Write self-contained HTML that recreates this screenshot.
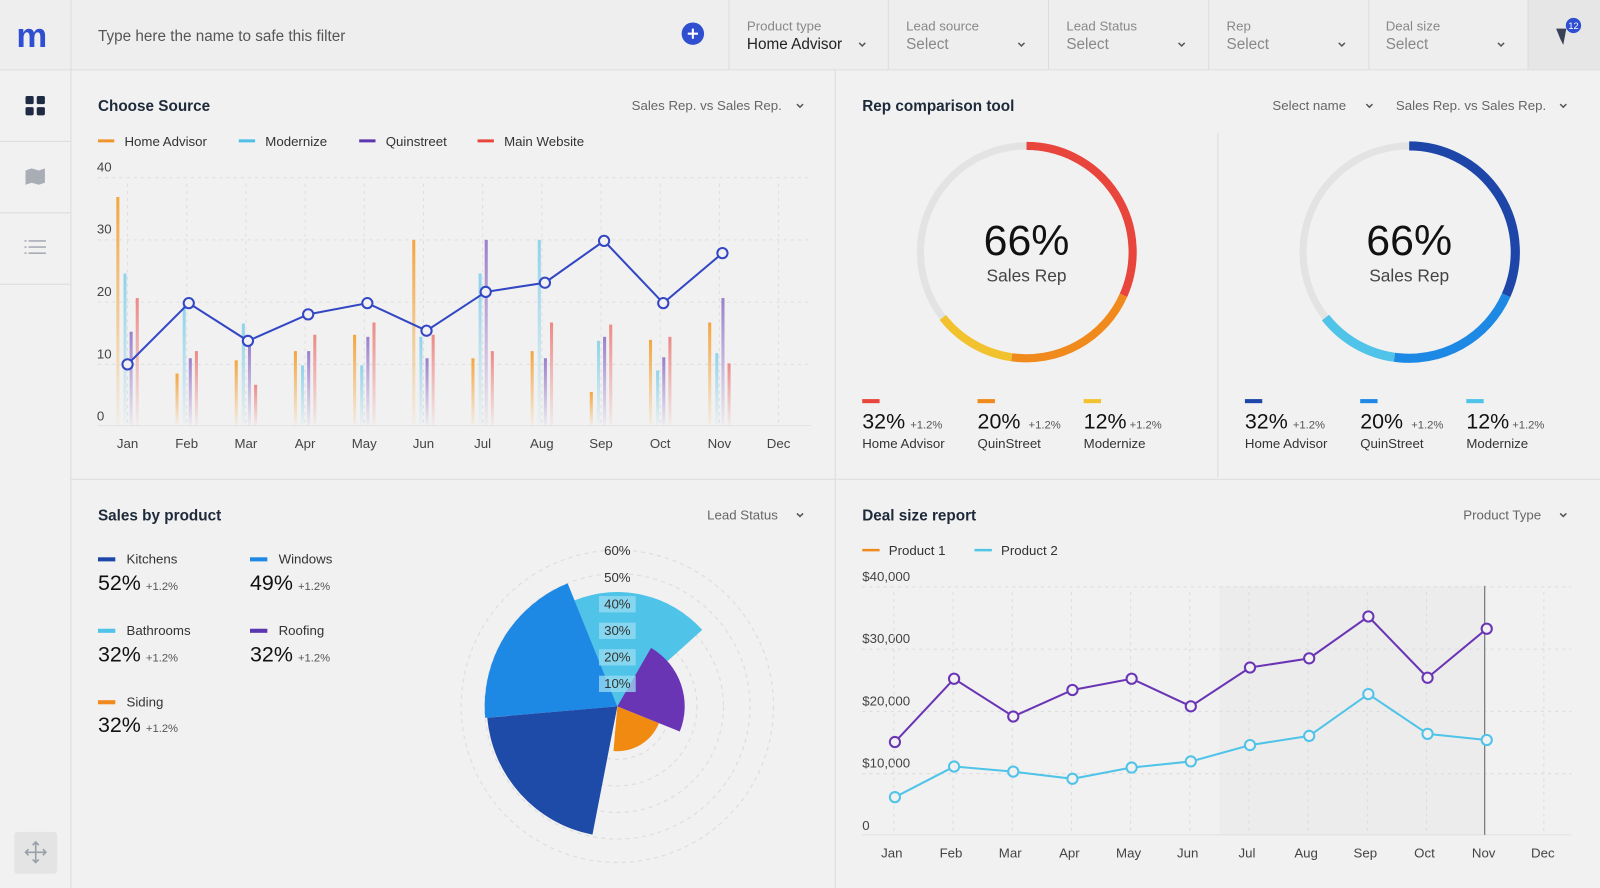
<!DOCTYPE html>
<html><head><meta charset="utf-8"><style>
html,body{margin:0;padding:0;background:#f0f0f0;}
svg{display:block;font-family:"Liberation Sans",sans-serif;}
</style></head><body>
<svg width="1600" height="888" viewBox="0 0 1568 870" preserveAspectRatio="none" xmlns="http://www.w3.org/2000/svg">
<defs>
<linearGradient id="go" x1="0" y1="0" x2="0" y2="1"><stop offset="0" stop-color="#f3a640"/><stop offset="1" stop-color="#f3a640" stop-opacity="0.05"/></linearGradient>
<linearGradient id="gc" x1="0" y1="0" x2="0" y2="1"><stop offset="0" stop-color="#8fd3ec"/><stop offset="1" stop-color="#8fd3ec" stop-opacity="0.05"/></linearGradient>
<linearGradient id="gp" x1="0" y1="0" x2="0" y2="1"><stop offset="0" stop-color="#9a7fcc"/><stop offset="1" stop-color="#9a7fcc" stop-opacity="0.05"/></linearGradient>
<linearGradient id="gr" x1="0" y1="0" x2="0" y2="1"><stop offset="0" stop-color="#ec8a86"/><stop offset="1" stop-color="#ec8a86" stop-opacity="0.05"/></linearGradient>
</defs>
<rect width="1568" height="870" fill="#f1f1f1"/>
<!-- header -->
<rect x="0" y="0" width="1568" height="68" fill="#eeeeee"/>
<rect x="1497" y="0" width="71" height="68" fill="#e6e6e6"/>
<line x1="0" y1="68.5" x2="1568" y2="68.5" stroke="#dcdcdc"/>
<line x1="69.5" y1="0" x2="69.5" y2="870" stroke="#dcdcdc"/>
<g stroke="#dcdcdc"><line x1="714.5" y1="0" x2="714.5" y2="68"/><line x1="870.5" y1="0" x2="870.5" y2="68"/><line x1="1027.5" y1="0" x2="1027.5" y2="68"/><line x1="1184.5" y1="0" x2="1184.5" y2="68"/><line x1="1341.5" y1="0" x2="1341.5" y2="68"/><line x1="1497.5" y1="0" x2="1497.5" y2="68"/></g>
<text x="16" y="46" font-size="34" font-weight="bold" fill="#2f4fd0">m</text>
<text x="96" y="40" font-size="15" fill="#555">Type here the name to safe this filter</text>
<circle cx="679" cy="33" r="11" fill="#2f4fd0"/><path d="M674 33h10M679 28v10" stroke="#fff" stroke-width="2"/>
<g font-size="13" fill="#888"><text x="732" y="30">Product type</text><text x="888" y="30">Lead source</text><text x="1045" y="30">Lead Status</text><text x="1202" y="30">Rep</text><text x="1358" y="30">Deal size</text></g>
<g font-size="15"><text x="732" y="48" fill="#222">Home Advisor</text><text x="888" y="48" fill="#888">Select</text><text x="1045" y="48" fill="#888">Select</text><text x="1202" y="48" fill="#888">Select</text><text x="1358" y="48" fill="#888">Select</text></g>
<g stroke="#555" stroke-width="1.5" fill="none"><path d="M842 42l3 3 3-3"/><path d="M998 42l3 3 3-3"/><path d="M1155 42l3 3 3-3"/><path d="M1312 42l3 3 3-3"/><path d="M1468 42l3 3 3-3"/></g>
<path d="M1525 28l10 0 -3 16 -3 -6z" fill="#3a4258"/>
<circle cx="1542" cy="25" r="7.5" fill="#2f4fd0"/><text x="1542" y="28.5" font-size="9" fill="#fff" text-anchor="middle">12</text>
<!-- sidebar -->
<g stroke="#dcdcdc"><line x1="0" y1="138.5" x2="69" y2="138.5"/><line x1="0" y1="208.5" x2="69" y2="208.5"/><line x1="0" y1="278.5" x2="69" y2="278.5"/></g>
<g fill="#1f2a44"><rect x="25" y="94" width="8" height="8" rx="1.5"/><rect x="36" y="94" width="8" height="8" rx="1.5"/><rect x="25" y="105" width="8" height="8" rx="1.5"/><rect x="36" y="105" width="8" height="8" rx="1.5"/></g>
<path d="M25 167l6-2 7 2 6-2v14l-6 2-7-2-6 2z" fill="#a9adb6"/>
<g stroke="#a9adb6" stroke-width="1.6"><line x1="28" y1="236" x2="45" y2="236"/><line x1="28" y1="242" x2="45" y2="242"/><line x1="28" y1="248" x2="45" y2="248"/><line x1="24" y1="236" x2="26" y2="236"/><line x1="24" y1="242" x2="26" y2="242"/><line x1="24" y1="248" x2="26" y2="248"/></g>
<rect x="14" y="815" width="42" height="41" rx="3" fill="#e4e4e4"/>
<g stroke="#9aa0aa" stroke-width="1.6" fill="none"><path d="M35 825v20M25 835h20M32 828l3-3 3 3M32 842l3 3 3-3M28 832l-3 3 3 3M42 832l3 3-3 3"/></g>
<!-- panel dividers -->
<line x1="818.5" y1="68" x2="818.5" y2="870" stroke="#dcdcdc"/>
<line x1="69" y1="469.5" x2="1568" y2="469.5" stroke="#dcdcdc"/>
<line x1="1193.5" y1="130" x2="1193.5" y2="468" stroke="#dcdcdc"/>
<!-- Choose source -->
<text x="96" y="109" font-size="15" font-weight="bold" fill="#1e2a3a">Choose Source</text>
<text x="619" y="108" font-size="13" fill="#666">Sales Rep. vs Sales Rep.</text>
<path d="M781 102l3 3 3-3" stroke="#555" stroke-width="1.5" fill="none"/>
<g stroke-width="3"><line x1="96" y1="138" x2="112" y2="138" stroke="#f0952d"/><line x1="234" y1="138" x2="250" y2="138" stroke="#4ebfe6"/><line x1="352" y1="138" x2="368" y2="138" stroke="#5a36b0"/><line x1="468" y1="138" x2="484" y2="138" stroke="#e8453c"/></g>
<g font-size="13" fill="#333"><text x="122" y="143">Home Advisor</text><text x="260" y="143">Modernize</text><text x="378" y="143">Quinstreet</text><text x="494" y="143">Main Website</text></g>
<g font-size="13" fill="#444"><text x="95" y="168">40</text><text x="95" y="229">30</text><text x="95" y="290">20</text><text x="95" y="351">10</text><text x="95" y="412">0</text></g>
<g stroke="#dedede" stroke-dasharray="3 4"><line x1="96" y1="174" x2="795" y2="174"/><line x1="96" y1="235" x2="795" y2="235"/><line x1="96" y1="296" x2="795" y2="296"/><line x1="96" y1="357" x2="795" y2="357"/>
<line x1="125" y1="180" x2="125" y2="417"/><line x1="183" y1="180" x2="183" y2="417"/><line x1="241" y1="180" x2="241" y2="417"/><line x1="299" y1="180" x2="299" y2="417"/><line x1="357" y1="180" x2="357" y2="417"/><line x1="415" y1="180" x2="415" y2="417"/><line x1="473" y1="180" x2="473" y2="417"/><line x1="531" y1="180" x2="531" y2="417"/><line x1="589" y1="180" x2="589" y2="417"/><line x1="647" y1="180" x2="647" y2="417"/><line x1="705" y1="180" x2="705" y2="417"/><line x1="763" y1="180" x2="763" y2="417"/></g>
<line x1="96" y1="417" x2="795" y2="417" stroke="#e2e2e2"/>
<g font-size="13" fill="#444" text-anchor="middle"><text x="125" y="439">Jan</text><text x="183" y="439">Feb</text><text x="241" y="439">Mar</text><text x="299" y="439">Apr</text><text x="357" y="439">May</text><text x="415" y="439">Jun</text><text x="473" y="439">Jul</text><text x="531" y="439">Aug</text><text x="589" y="439">Sep</text><text x="647" y="439">Oct</text><text x="705" y="439">Nov</text><text x="763" y="439">Dec</text></g>
<g>
<rect x="114" y="193" width="3" height="224" fill="url(#go)"/><rect x="121" y="268" width="3" height="149" fill="url(#gc)"/><rect x="127" y="325" width="3" height="92" fill="url(#gp)"/><rect x="133" y="292" width="3" height="125" fill="url(#gr)"/>
<rect x="172" y="366" width="3" height="51" fill="url(#go)"/><rect x="179" y="300" width="3" height="117" fill="url(#gc)"/><rect x="185" y="351" width="3" height="66" fill="url(#gp)"/><rect x="191" y="344" width="3" height="73" fill="url(#gr)"/>
<rect x="230" y="353" width="3" height="64" fill="url(#go)"/><rect x="237" y="317" width="3" height="100" fill="url(#gc)"/><rect x="243" y="337" width="3" height="80" fill="url(#gp)"/><rect x="249" y="377" width="3" height="40" fill="url(#gr)"/>
<rect x="288" y="344" width="3" height="73" fill="url(#go)"/><rect x="295" y="358" width="3" height="59" fill="url(#gc)"/><rect x="301" y="344" width="3" height="73" fill="url(#gp)"/><rect x="307" y="328" width="3" height="89" fill="url(#gr)"/>
<rect x="346" y="328" width="3" height="89" fill="url(#go)"/><rect x="353" y="358" width="3" height="59" fill="url(#gc)"/><rect x="359" y="330" width="3" height="87" fill="url(#gp)"/><rect x="365" y="316" width="3" height="101" fill="url(#gr)"/>
<rect x="404" y="235" width="3" height="182" fill="url(#go)"/><rect x="411" y="330" width="3" height="87" fill="url(#gc)"/><rect x="417" y="351" width="3" height="66" fill="url(#gp)"/><rect x="423" y="328" width="3" height="89" fill="url(#gr)"/>
<rect x="462" y="351" width="3" height="66" fill="url(#go)"/><rect x="469" y="268" width="3" height="149" fill="url(#gc)"/><rect x="475" y="235" width="3" height="182" fill="url(#gp)"/><rect x="481" y="344" width="3" height="73" fill="url(#gr)"/>
<rect x="520" y="344" width="3" height="73" fill="url(#go)"/><rect x="527" y="235" width="3" height="182" fill="url(#gc)"/><rect x="533" y="351" width="3" height="66" fill="url(#gp)"/><rect x="539" y="316" width="3" height="101" fill="url(#gr)"/>
<rect x="578" y="384" width="3" height="33" fill="url(#go)"/><rect x="585" y="334" width="3" height="83" fill="url(#gc)"/><rect x="591" y="330" width="3" height="87" fill="url(#gp)"/><rect x="597" y="318" width="3" height="99" fill="url(#gr)"/>
<rect x="636" y="333" width="3" height="84" fill="url(#go)"/><rect x="643" y="363" width="3" height="54" fill="url(#gc)"/><rect x="649" y="350" width="3" height="67" fill="url(#gp)"/><rect x="655" y="330" width="3" height="87" fill="url(#gr)"/>
<rect x="694" y="316" width="3" height="101" fill="url(#go)"/><rect x="701" y="346" width="3" height="71" fill="url(#gc)"/><rect x="707" y="292" width="3" height="125" fill="url(#gp)"/><rect x="713" y="356" width="3" height="61" fill="url(#gr)"/>
</g>
<polyline points="125,357 185,297 243,334 302,308 360,297 418,324 476,286 534,277 592,236 650,297 708,248" fill="none" stroke="#3347c4" stroke-width="2"/>
<g fill="#f1f1f1" stroke="#3347c4" stroke-width="2"><circle cx="125" cy="357" r="5"/><circle cx="185" cy="297" r="5"/><circle cx="243" cy="334" r="5"/><circle cx="302" cy="308" r="5"/><circle cx="360" cy="297" r="5"/><circle cx="418" cy="324" r="5"/><circle cx="476" cy="286" r="5"/><circle cx="534" cy="277" r="5"/><circle cx="592" cy="236" r="5"/><circle cx="650" cy="297" r="5"/><circle cx="708" cy="248" r="5"/></g>
<!-- Rep comparison -->
<text x="845" y="109" font-size="15" font-weight="bold" fill="#1e2a3a">Rep comparison tool</text>
<text x="1247" y="108" font-size="13" fill="#666">Select name</text><path d="M1339 102l3 3 3-3" stroke="#555" stroke-width="1.5" fill="none"/>
<text x="1368" y="108" font-size="13" fill="#666">Sales Rep. vs Sales Rep.</text><path d="M1529 102l3 3 3-3" stroke="#555" stroke-width="1.5" fill="none"/>
<circle cx="1006" cy="247" r="104" fill="none" stroke="#e3e3e3" stroke-width="7"/>
<g fill="none" stroke-width="8"><path d="M1006 143A104 104 0 0 1 1101 289.3" stroke="#e8453c"/><path d="M1101 289.3A104 104 0 0 1 991.5 350" stroke="#f08a1c"/><path d="M991.5 350A104 104 0 0 1 924 311.1" stroke="#f2c12e"/></g>
<text x="1006" y="250" font-size="42" fill="#111" text-anchor="middle">66%</text>
<text x="1006" y="276" font-size="17" fill="#444" text-anchor="middle">Sales Rep</text>
<circle cx="1381" cy="247" r="104" fill="none" stroke="#e3e3e3" stroke-width="7"/>
<g fill="none" stroke-width="9"><path d="M1381 143A104 104 0 0 1 1476 289.3" stroke="#1e46a8"/><path d="M1476 289.3A104 104 0 0 1 1366.5 350" stroke="#1e88e5"/><path d="M1366.5 350A104 104 0 0 1 1299 311.1" stroke="#4fc3e8"/></g>
<text x="1381" y="250" font-size="42" fill="#111" text-anchor="middle">66%</text>
<text x="1381" y="276" font-size="17" fill="#444" text-anchor="middle">Sales Rep</text>
<g>
<rect x="845" y="391" width="17" height="4" fill="#e8453c"/><rect x="958" y="391" width="17" height="4" fill="#f08a1c"/><rect x="1062" y="391" width="17" height="4" fill="#f2c12e"/>
<rect x="1220" y="391" width="17" height="4" fill="#1e46a8"/><rect x="1333" y="391" width="17" height="4" fill="#1e88e5"/><rect x="1437" y="391" width="17" height="4" fill="#4fc3e8"/>
<g font-size="21" fill="#111"><text x="845" y="420">32%</text><text x="958" y="420">20%</text><text x="1062" y="420">12%</text><text x="1220" y="420">32%</text><text x="1333" y="420">20%</text><text x="1437" y="420">12%</text></g>
<g font-size="11" fill="#555"><text x="892" y="420">+1.2%</text><text x="1008" y="420">+1.2%</text><text x="1107" y="420">+1.2%</text><text x="1267" y="420">+1.2%</text><text x="1383" y="420">+1.2%</text><text x="1482" y="420">+1.2%</text></g>
<g font-size="13" fill="#333"><text x="845" y="439">Home Advisor</text><text x="958" y="439">QuinStreet</text><text x="1062" y="439">Modernize</text><text x="1220" y="439">Home Advisor</text><text x="1333" y="439">QuinStreet</text><text x="1437" y="439">Modernize</text></g>
</g>
<!-- Sales by product -->
<text x="96" y="510" font-size="15" font-weight="bold" fill="#1e2a3a">Sales by product</text>
<text x="693" y="509" font-size="13" fill="#666">Lead Status</text><path d="M781 503l3 3 3-3" stroke="#555" stroke-width="1.5" fill="none"/>
<rect x="96" y="546" width="17" height="4" fill="#1e46a8"/><rect x="245" y="546" width="17" height="4" fill="#1e88e5"/>
<rect x="96" y="616" width="17" height="4" fill="#4fc3e8"/><rect x="245" y="616" width="17" height="4" fill="#5a36b0"/>
<rect x="96" y="686" width="17" height="4" fill="#f08a1c"/>
<g font-size="13" fill="#333"><text x="124" y="552">Kitchens</text><text x="273" y="552">Windows</text><text x="124" y="622">Bathrooms</text><text x="273" y="622">Roofing</text><text x="124" y="692">Siding</text></g>
<g font-size="21" fill="#111"><text x="96" y="578">52%</text><text x="245" y="578">49%</text><text x="96" y="648">32%</text><text x="245" y="648">32%</text><text x="96" y="717">32%</text></g>
<g font-size="11" fill="#555"><text x="143" y="578">+1.2%</text><text x="292" y="578">+1.2%</text><text x="143" y="648">+1.2%</text><text x="292" y="648">+1.2%</text><text x="143" y="717">+1.2%</text></g>
<g fill="none" stroke="#dedede" stroke-dasharray="4 4" stroke-width="1.2"><circle cx="605" cy="692" r="26"/><circle cx="605" cy="692" r="52"/><circle cx="605" cy="692" r="78"/><circle cx="605" cy="692" r="104"/><circle cx="605" cy="692" r="130"/><circle cx="605" cy="692" r="153"/></g>
<path d="M605 692L563 588.2A112 112 0 0 1 688.2 617.1Z" fill="#4fc3e8"/>
<path d="M605 692L475.5 703.3A130 130 0 0 1 556.3 571.5Z" fill="#1e88e5"/>
<path d="M605 692L580.6 817.7A128 128 0 0 1 477.5 703.2Z" fill="#1e4aa8"/>
<path d="M605 692L645.8 708.5A44 44 0 0 1 601.2 735.8Z" fill="#f08a10"/>
<path d="M605 692L638 634.8A66 66 0 0 1 666.2 716.7Z" fill="#6a35b5"/>
<g font-size="13" fill="#333" text-anchor="middle">
<text x="605" y="544">60%</text><text x="605" y="570">50%</text>
<rect x="587" y="584" width="36" height="16" fill="#9adcf1" opacity="0.75"/><text x="605" y="596">40%</text>
<rect x="587" y="610" width="36" height="16" fill="#9adcf1" opacity="0.75"/><text x="605" y="622">30%</text>
<rect x="587" y="636" width="36" height="16" fill="#9adcf1" opacity="0.75"/><text x="605" y="648">20%</text>
<rect x="587" y="662" width="36" height="16" fill="#9adcf1" opacity="0.75"/><text x="605" y="674">10%</text>
</g>
<!-- Deal size -->
<text x="845" y="510" font-size="15" font-weight="bold" fill="#1e2a3a">Deal size report</text>
<text x="1434" y="509" font-size="13" fill="#666">Product Type</text><path d="M1529 503l3 3 3-3" stroke="#555" stroke-width="1.5" fill="none"/>
<line x1="845" y1="539" x2="862" y2="539" stroke="#f08a1c" stroke-width="2.5"/><line x1="955" y1="539" x2="972" y2="539" stroke="#4fc3e8" stroke-width="2.5"/>
<g font-size="13" fill="#333"><text x="871" y="544">Product 1</text><text x="981" y="544">Product 2</text></g>
<rect x="1195" y="574" width="260" height="244" fill="#ececec"/>
<g font-size="13" fill="#444"><text x="845" y="569">$40,000</text><text x="845" y="630">$30,000</text><text x="845" y="691">$20,000</text><text x="845" y="752">$10,000</text><text x="845" y="813">0</text></g>
<g stroke="#dcdcdc" stroke-dasharray="3 4"><line x1="845" y1="575" x2="1540" y2="575"/><line x1="845" y1="636" x2="1540" y2="636"/><line x1="845" y1="697" x2="1540" y2="697"/><line x1="845" y1="758" x2="1540" y2="758"/>
<line x1="876" y1="580" x2="876" y2="818"/><line x1="934" y1="580" x2="934" y2="818"/><line x1="992" y1="580" x2="992" y2="818"/><line x1="1050" y1="580" x2="1050" y2="818"/><line x1="1108" y1="580" x2="1108" y2="818"/><line x1="1166" y1="580" x2="1166" y2="818"/><line x1="1224" y1="580" x2="1224" y2="818"/><line x1="1282" y1="580" x2="1282" y2="818"/><line x1="1340" y1="580" x2="1340" y2="818"/><line x1="1398" y1="580" x2="1398" y2="818"/><line x1="1513" y1="580" x2="1513" y2="818"/></g>
<line x1="845" y1="818" x2="1540" y2="818" stroke="#e0e0e0"/>
<line x1="1455" y1="574" x2="1455" y2="818" stroke="#777" stroke-width="1.2"/>
<g font-size="13" fill="#444" text-anchor="middle"><text x="874" y="840">Jan</text><text x="932" y="840">Feb</text><text x="990" y="840">Mar</text><text x="1048" y="840">Apr</text><text x="1106" y="840">May</text><text x="1164" y="840">Jun</text><text x="1222" y="840">Jul</text><text x="1280" y="840">Aug</text><text x="1338" y="840">Sep</text><text x="1396" y="840">Oct</text><text x="1454" y="840">Nov</text><text x="1512" y="840">Dec</text></g>
<polyline points="877,727 935,665 993,702 1051,676 1109,665 1167,692 1225,654 1283,645 1341,604 1399,664 1457,616" fill="none" stroke="#6a35b5" stroke-width="2"/>
<polyline points="877,781 935,751 993,756 1051,763 1109,752 1167,746 1225,730 1283,721 1341,680 1399,719 1457,725" fill="none" stroke="#4fc3e8" stroke-width="2"/>
<g fill="#f1f1f1" stroke="#6a35b5" stroke-width="2"><circle cx="877" cy="727" r="5"/><circle cx="935" cy="665" r="5"/><circle cx="993" cy="702" r="5"/><circle cx="1051" cy="676" r="5"/><circle cx="1109" cy="665" r="5"/><circle cx="1167" cy="692" r="5"/><circle cx="1225" cy="654" r="5"/><circle cx="1283" cy="645" r="5"/><circle cx="1341" cy="604" r="5"/><circle cx="1399" cy="664" r="5"/><circle cx="1457" cy="616" r="5"/></g>
<g fill="#f1f1f1" stroke="#4fc3e8" stroke-width="2"><circle cx="877" cy="781" r="5"/><circle cx="935" cy="751" r="5"/><circle cx="993" cy="756" r="5"/><circle cx="1051" cy="763" r="5"/><circle cx="1109" cy="752" r="5"/><circle cx="1167" cy="746" r="5"/><circle cx="1225" cy="730" r="5"/><circle cx="1283" cy="721" r="5"/><circle cx="1341" cy="680" r="5"/><circle cx="1399" cy="719" r="5"/><circle cx="1457" cy="725" r="5"/></g>
</svg>
</body></html>
